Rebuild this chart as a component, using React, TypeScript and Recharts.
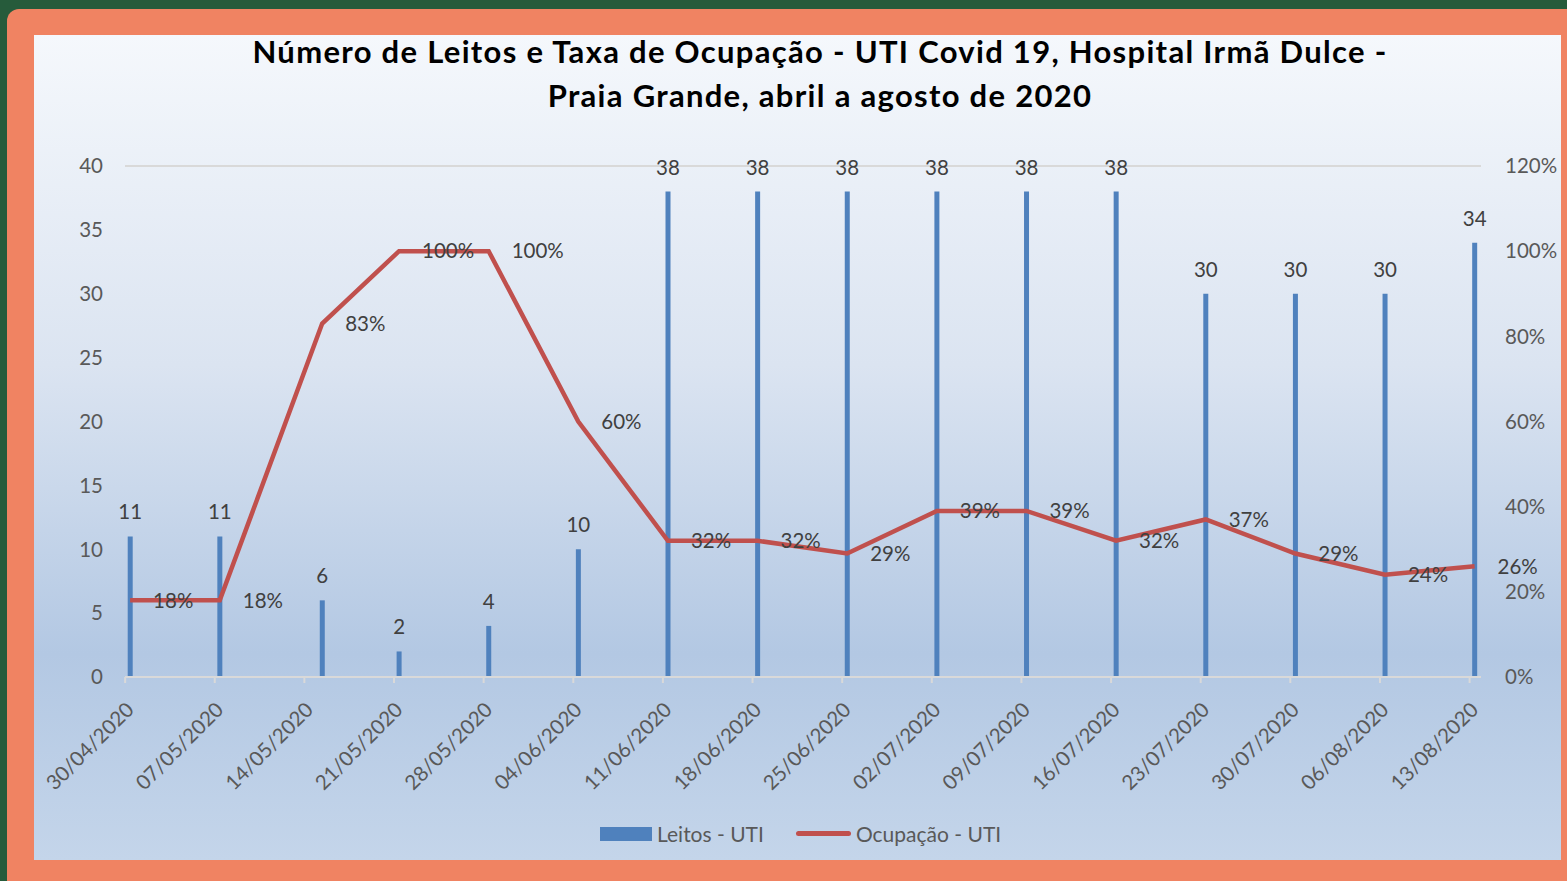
import React from "react";
import {
  ComposedChart,
  Bar,
  Line,
  XAxis,
  YAxis,
  CartesianGrid,
  LabelList,
  Legend,
} from "recharts";

// days since 30/04/2020
const days = [0, 7, 15, 21, 28, 35, 42, 49, 56, 63, 70, 77, 84, 91, 98, 105];
const leitos = [11, 11, 6, 2, 4, 10, 38, 38, 38, 38, 38, 38, 30, 30, 30, 34];
const ocupacao = [18, 18, 83, 100, 100, 60, 32, 32, 29, 39, 39, 32, 37, 29, 24, 26];

const tickDays = [0, 7, 14, 21, 28, 35, 42, 49, 56, 63, 70, 77, 84, 91, 98, 105];
const tickLabels = [
  "30/04/2020", "07/05/2020", "14/05/2020", "21/05/2020",
  "28/05/2020", "04/06/2020", "11/06/2020", "18/06/2020",
  "25/06/2020", "02/07/2020", "09/07/2020", "16/07/2020",
  "23/07/2020", "30/07/2020", "06/08/2020", "13/08/2020",
];
const leftTicks = [0, 5, 10, 15, 20, 25, 30, 35, 40];
const rightTicks = [0, 20, 40, 60, 80, 100, 120];

const data = days.map((d, i) => ({ day: d, leitos: leitos[i], ocupacao: ocupacao[i] }));

const FONT = "Lato, 'Open Sans', sans-serif";
const BLUE = "#4f81bd";
const RED = "#c0504d";

function DateTick(props: any) {
  const { x, y, payload } = props;
  const idx = tickDays.indexOf(payload.value);
  // ticks sit at the start of the day slot, points in the middle
  const tx = x - 5;
  return (
    <g>
      <line x1={tx} y1={y} x2={tx} y2={y + 6} stroke="#d9d9d9" strokeWidth={2} />
      <text
        transform={`translate(${tx + 10},${y + 34}) rotate(-45)`}
        textAnchor="end"
        fill="#595959"
        fontSize={20.5}
        fontFamily={FONT}
      >
        {tickLabels[idx]}
      </text>
    </g>
  );
}

function LegendContent() {
  return (
    <div
      style={{
        display: "flex",
        justifyContent: "flex-start",
        alignItems: "center",
        fontFamily: FONT,
        fontSize: 21,
        color: "#595959",
        paddingLeft: 600,
      }}
    >
      <span style={{ width: 52, height: 14, background: BLUE, display: "inline-block" }} />
      <span style={{ marginLeft: 5 }}>Leitos - UTI</span>
      <span
        style={{
          width: 55,
          height: 5,
          borderRadius: 3,
          background: RED,
          display: "inline-block",
          marginLeft: 32,
        }}
      />
      <span style={{ marginLeft: 5 }}>Ocupação - UTI</span>
    </div>
  );
}

export default function App() {
  return (
    <div
      style={{
        position: "fixed",
        left: 0,
        top: 0,
        width: 1567,
        height: 881,
        background: "#265b3b",
        overflow: "hidden",
      }}
    >
      <div
        style={{
          position: "absolute",
          left: 7,
          top: 9,
          width: 1600,
          height: 900,
          borderRadius: 12,
          background: "#f08362",
        }}
      />
      <div
        style={{
          position: "absolute",
          left: 34,
          top: 35,
          width: 1527,
          height: 825,
          background:
            "linear-gradient(180deg, #f5f8fc 0%, #dbe4f1 40%, #b3c8e3 75%, #c4d5ea 100%)",
        }}
      />
      <div
        style={{
          position: "absolute",
          left: 0,
          top: 29,
          width: 1640,
          textAlign: "center",
          fontFamily: FONT,
          fontWeight: 700,
          fontSize: 31,
          letterSpacing: 1.3,
          lineHeight: "44px",
          color: "#000",
        }}
      >
        Número de Leitos e Taxa de Ocupação - UTI Covid 19, Hospital Irmã Dulce -
        <br />
        Praia Grande, abril a agosto de 2020
      </div>
      <div style={{ position: "absolute", left: 0, top: 0 }}>
        <ComposedChart
          width={1567}
          height={881}
          data={data}
          margin={{ top: 166, right: 0, left: 35, bottom: 104 }}
        >
          <CartesianGrid horizontal vertical={false} stroke="#d9d9d9" strokeWidth={2} />
          <XAxis
            dataKey="day"
            type="number"
            domain={[-0.4, 105.5]}
            ticks={tickDays}
            interval={0}
            height={100}
            axisLine={{ stroke: "#d9d9d9", strokeWidth: 2 }}
            tickLine={false}
            tickSize={0}
            tickMargin={0}
            tick={<DateTick />}
          />
          <YAxis
            yAxisId="left"
            domain={[0, 40]}
            ticks={leftTicks}
            width={90}
            axisLine={false}
            tickLine={false}
            tickSize={0}
            tickMargin={22}
            tick={{ fill: "#595959", fontSize: 20.5, fontFamily: FONT }}
          />
          <YAxis
            yAxisId="right"
            orientation="right"
            domain={[0, 120]}
            ticks={rightTicks}
            width={86}
            axisLine={false}
            tickLine={false}
            tickSize={0}
            tickMargin={24}
            tickFormatter={(v: number) => `${v}%`}
            tick={{ fill: "#595959", fontSize: 20.5, fontFamily: FONT }}
          />
          <Legend
            layout="vertical"
            align="center"
            verticalAlign="middle"
            wrapperStyle={{ top: 821, left: 0, width: 1567 }}
            content={<LegendContent />}
          />
          <Bar
            yAxisId="left"
            dataKey="leitos"
            name="Leitos - UTI"
            fill={BLUE}
            barSize={5}
            isAnimationActive={false}
          >
            <LabelList
              dataKey="leitos"
              position="top"
              offset={17}
              fill="#404040"
              fontSize={20.5}
              fontFamily={FONT}
            />
          </Bar>
          <Line
            yAxisId="right"
            type="linear"
            dataKey="ocupacao"
            name="Ocupação - UTI"
            stroke={RED}
            strokeWidth={4.5}
            dot={false}
            isAnimationActive={false}
          >
            <LabelList
              dataKey="ocupacao"
              position="right"
              offset={23}
              fill="#404040"
              fontSize={20.5}
              fontFamily={FONT}
              formatter={(v: any) => `${v}%`}
            />
          </Line>
        </ComposedChart>
      </div>
    </div>
  );
}
